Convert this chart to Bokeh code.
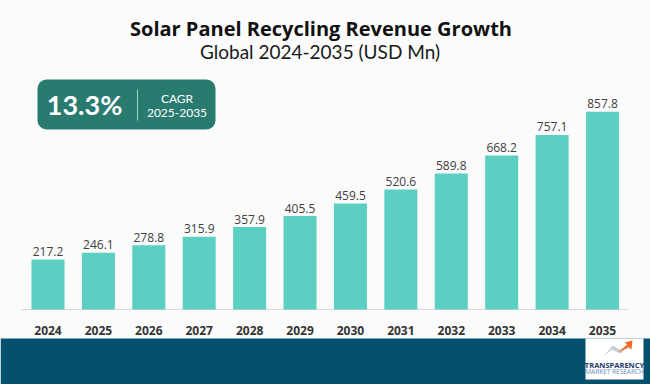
from bokeh.plotting import figure
from bokeh.models import Range1d, BoxAnnotation
from bokeh.core.properties import value
from bokeh.embed import file_html
from bokeh.resources import INLINE

# ---------------- data ----------------
years = ["2024", "2025", "2026", "2027", "2028", "2029",
         "2030", "2031", "2032", "2033", "2034", "2035"]
revenue = [217.2, 246.1, 278.8, 315.9, 357.9, 405.5,
           459.5, 520.6, 589.8, 668.2, 757.1, 857.8]
value_labels = [f"{v:.1f}" for v in revenue]

title_text = "Solar Panel Recycling Revenue Growth"
subtitle_text = "Global 2024-2035 (USD Mn)"
cagr_value = "13.3%"
cagr_label = "CAGR"
cagr_period = "2025-2035"
logo_line1 = "TRANSPARENCY"
logo_line2 = "MARKET RESEARCH"

# ---------------- layout / style ----------------
W, H = 650, 384
BASE = 309          # pixel row (from top) of the zero line
K = 0.2305          # pixels per USD Mn
PAD_L, PAD_R = 0.442, 0.452   # outer padding, in category widths
BG = "#FBFBFB"
BAR = "#5CCFC3"
BOX = "#2A7B6F"
BAND = "#03506F"

pos = list(range(len(years)))   # category slots


def Y(top):
    """convert a pixel row measured from the top into the px range"""
    return H - top


p = figure(width=W, height=H,
           x_range=Range1d(-0.5 - PAD_L, len(years) - 0.5 + PAD_R),
           y_range=Range1d(-(H - BASE) / K, BASE / K),
           output_backend="svg", toolbar_location=None,
           x_axis_location=None, y_axis_location=None,
           min_border=0, background_fill_color=BG, border_fill_color=BG,
           outline_line_color=None)
p.grid.visible = False
p.extra_x_ranges = {"px": Range1d(0, W)}
p.extra_y_ranges = {"px": Range1d(0, H)}

# bottom band
p.quad(left=[0], right=[W], top=[Y(338)], bottom=[0],
       x_range_name="px", y_range_name="px",
       fill_color=BAND, line_color=None)

# logo
p.quad(left=[585], right=[643], top=[Y(338)], bottom=[Y(379)],
       x_range_name="px", y_range_name="px",
       fill_color="white", line_color=None)
p.patch(x=[603, 611, 620, 627, 624, 631, 630, 624, 621, 612],
        y=[Y(356), Y(349), Y(353), Y(346), Y(345), Y(341),
           Y(349), Y(347), Y(350), Y(345)],
        x_range_name="px", y_range_name="px",
        fill_color="#C9CED6", line_color=None)
p.patch(x=[617, 627, 624, 632, 631, 628, 626],
        y=[Y(352), Y(344), Y(342), Y(340), Y(349), Y(346), Y(348)],
        x_range_name="px", y_range_name="px",
        fill_color="#F26B21", line_color=None)
p.text(x=[614], y=[Y(364)], text=[logo_line1],
       x_range_name="px", y_range_name="px",
       text_font=value("Open Sans"), text_font_style="bold",
       text_font_size="7.5px", text_color="#1F3A68",
       text_align="center", text_baseline="alphabetic")
p.text(x=[614], y=[Y(371)], text=[logo_line2],
       x_range_name="px", y_range_name="px",
       text_font=value("Open Sans"), text_font_size="6.5px",
       text_color="#6A8CC0",
       text_align="center", text_baseline="alphabetic")

# CAGR box
box = BoxAnnotation(left=37, right=215, top=Y(79), bottom=Y(129),
                    x_range_name="px", y_range_name="px",
                    fill_color=BOX, fill_alpha=1, line_color=None,
                    border_radius=9, level="underlay")
p.add_layout(box)
p.segment(x0=[137], x1=[137], y0=[Y(89)], y1=[Y(120)],
          x_range_name="px", y_range_name="px",
          line_color="#A9CFC9", line_width=1)
p.text(x=[84], y=[Y(104)], text=[cagr_value],
       x_range_name="px", y_range_name="px",
       text_font=value("Lato"), text_font_style="bold",
       text_font_size="27px", text_color="white",
       text_align="center", text_baseline="middle")
p.text(x=[176.5], y=[Y(97.5)], text=[cagr_label],
       x_range_name="px", y_range_name="px",
       text_font=value("Lato"), text_font_size="12px", text_color="white",
       text_align="center", text_baseline="middle")
p.text(x=[176.5], y=[Y(112)], text=[cagr_period],
       x_range_name="px", y_range_name="px",
       text_font=value("Lato"), text_font_size="12px", text_color="white",
       text_align="center", text_baseline="middle")

# titles
p.text(x=[320.5], y=[Y(28.3)], text=[title_text],
       x_range_name="px", y_range_name="px",
       text_font=value("Open Sans"), text_font_style="bold",
       text_font_size="20px", text_color="#111111",
       text_align="center", text_baseline="alphabetic")
p.text(x=[319.5], y=[Y(51)], text=[subtitle_text],
       x_range_name="px", y_range_name="px",
       text_font=value("Lato"), text_font_size="19px", text_color="#1A1A1A",
       text_align="center", text_baseline="alphabetic")

# axis line
p.segment(x0=[21], x1=[628], y0=[0], y1=[0], x_range_name="px",
          line_color="#D9D9D9", line_width=1)

# bars
p.vbar(x=pos, top=revenue, width=0.655, fill_color=BAR, line_color=None)

# value labels
p.text(x=pos, y=revenue, text=value_labels, y_offset=-8,
       text_font=value("Open Sans"), text_font_size="12px",
       text_color="#404040", text_align="center", text_baseline="alphabetic")

# year labels
p.text(x=pos, y=[Y(330)] * len(years), text=years, y_range_name="px",
       text_font=value("Open Sans"), text_font_style="bold",
       text_font_size="12px", text_color="#333333",
       text_align="center", text_baseline="alphabetic")

open("out.html", "w").write(file_html(p, INLINE))
